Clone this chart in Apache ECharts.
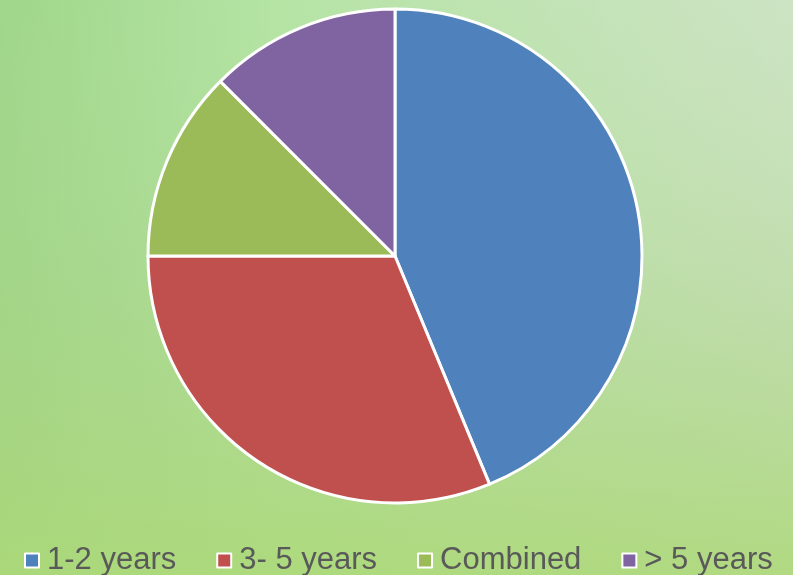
<!DOCTYPE html>
<html>
<head>
<meta charset="utf-8">
<script src="https://cdn.jsdelivr.net/npm/echarts@6/dist/echarts.min.js"></script>
</head>
<body style="margin:0">
<div id="container" style="width:793px;height:575px"></div>
<script type="text/javascript">
    var categories = ['1-2 years', '3- 5 years', 'Combined', '> 5 years'];
    var values = [7, 5, 2, 2];
    var colors = ['#4f81bd', '#c0504d', '#9bbb59', '#8064a2'];

    var myChart = echarts.init(document.getElementById('container'));
    var option = {
        animation: false,
        graphic: [
            {
                type: 'rect', silent: true, z: -10,
                shape: {x: 0, y: 0, width: 793, height: 575},
                style: {
                    fill: new echarts.graphic.LinearGradient(0, 0, 1, 0, [
                        {offset: 0, color: '#9fd68a'},
                        {offset: 0.35, color: '#b5e4a5'},
                        {offset: 1, color: '#cde3c4'}
                    ])
                }
            },
            {
                type: 'rect', silent: true, z: -9,
                shape: {x: 0, y: 0, width: 793, height: 575},
                style: {
                    fill: new echarts.graphic.LinearGradient(0, 0, 0, 1, [
                        {offset: 0, color: 'rgba(180,220,150,0)'},
                        {offset: 0.5, color: 'rgba(170,210,130,0.35)'},
                        {offset: 1, color: 'rgba(172,216,118,0.85)'}
                    ])
                }
            }
        ],
        legend: {
            data: categories,
            left: 19,
            top: 540,
            icon: 'rect',
            itemWidth: 14,
            itemHeight: 14,
            itemGap: 40,
            itemStyle: {borderColor: '#ffffff', borderWidth: 2},
            textStyle: {fontFamily: 'Liberation Sans', fontSize: 31, color: '#595959', padding: [0, 0, 0, 3]}
        },
        series: [
            {
                type: 'pie',
                center: [395, 256],
                radius: 247,
                startAngle: 90,
                clockwise: true,
                label: {show: false},
                labelLine: {show: false},
                itemStyle: {borderColor: '#ffffff', borderWidth: 3},
                emphasis: {disabled: true},
                data: categories.map(function (c, i) {
                    return {name: c, value: values[i], itemStyle: {color: colors[i]}};
                })
            }
        ]
    };
    myChart.setOption(option);
</script>
</body>
</html>
